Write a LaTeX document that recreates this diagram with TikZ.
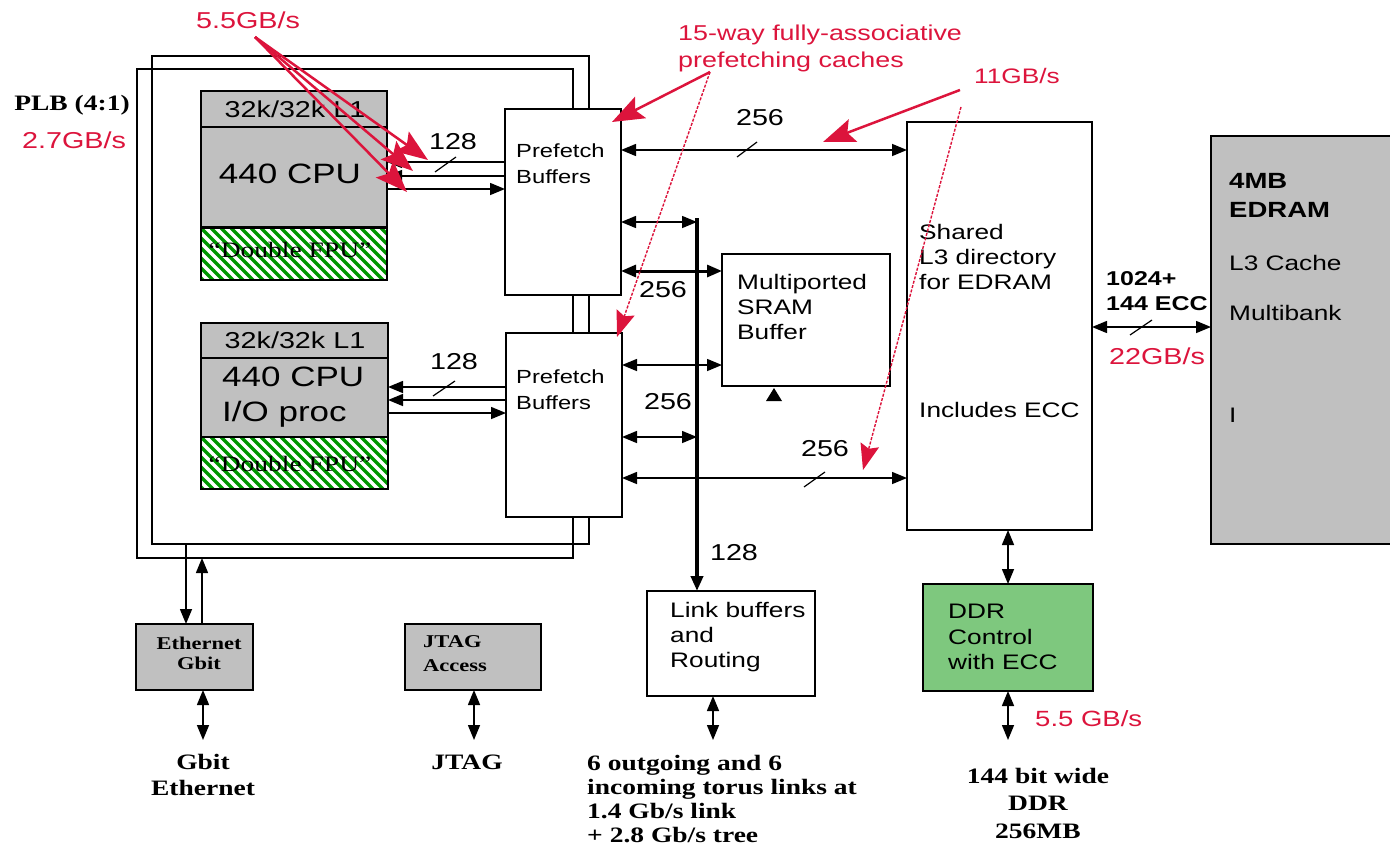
\documentclass[tikz,border=0pt]{standalone}
\usepackage{fontspec}
\setmainfont[FakeStretch=1.25]{Liberation Sans}
\newfontfamily\tms[FakeStretch=1.25]{Liberation Serif}
\usepackage{xcolor}
\usetikzlibrary{arrows.meta, positioning, calc}

\definecolor{annot}{RGB}{220,20,60}
\definecolor{blkgray}{RGB}{192,192,192}
\definecolor{ddrgreen}{RGB}{126,200,126}
\definecolor{hatchgreen}{RGB}{0,150,0}

\newcommand{\fs}[2]{\fontsize{#1}{#2}\selectfont}

\begin{document}
\begin{tikzpicture}[x=1pt, y=-1pt,
  >={Triangle[length=15pt,width=12pt]},
  box/.style={draw, line width=1.6pt, inner sep=0pt, outer sep=0pt, anchor=north west},
  wire/.style={line width=1.5pt},
  bus/.style={line width=4pt},
  slash/.style={line width=1.2pt},
  hatch/.style={draw=hatchgreen, line width=3.5pt},
  lbl/.style={inner sep=0pt, align=left},
  num/.style={inner sep=0pt, font=\fs{23}{26}},
  rlbl/.style={inner sep=0pt, align=left, text=annot, font=\fs{23}{27}},
  note/.style={draw=annot, line width=2.5pt, -{Stealth[length=32pt,width=24pt,inset=6pt]}, annot},
  notethin/.style={draw=annot, line width=1.4pt, dash pattern=on 3pt off 1.5pt, -{Stealth[length=26pt,width=19pt,inset=4pt]}, annot}]
\useasboundingbox (0,0) rectangle (1390,846);

% PLB frames
\node[box, minimum width=436pt, minimum height=489pt] (plbA) at (137,69) {};
\node[box, minimum width=437pt, minimum height=488pt] (plbB) at (152,56) {};
\node[lbl, font=\tms\bfseries\fs{22}{26}] (plb) at (72,105) {PLB (4:1)};

% upper CPU
\node[box, fill=blkgray, minimum width=186pt, minimum height=136pt] (cpuA) at (201,91) {};
\draw[line width=1.6pt] ([yshift=-36pt]cpuA.north west) -- ([yshift=-36pt]cpuA.north east);
\begin{scope}
  \clip (201,228) rectangle (387,280);
  \foreach \k in {-70,-60,...,190}
    \draw[hatch] (201+\k,228) -- ++(60,60);
\end{scope}
\node[box, minimum width=186pt, minimum height=52pt] (fpuA) at (201,228) {};
\node[lbl, font=\fs{23}{26}] (l1A) at (295,109) {32k/32k L1};
\node[lbl, font=\fs{28}{34}] (cpuAtxt) at (290,174) {440 CPU};
\node[lbl, font=\tms\fs{22}{26}] (fpuAtxt) at (290,250) {“Double FPU”};

% lower CPU
\node[box, fill=blkgray, minimum width=187pt, minimum height=114pt] (cpuB) at (201,323) {};
\draw[line width=1.6pt] ([yshift=-35pt]cpuB.north west) -- ([yshift=-35pt]cpuB.north east);
\begin{scope}
  \clip (201,437) rectangle (388,489);
  \foreach \k in {-70,-60,...,190}
    \draw[hatch] (201+\k,437) -- ++(60,60);
\end{scope}
\node[box, minimum width=187pt, minimum height=52pt] (fpuB) at (201,437) {};
\node[lbl, font=\fs{23}{26}] (l1B) at (295,340) {32k/32k L1};
\node[lbl, anchor=west, font=\fs{28}{35}] (cpuBtxt) at (222,397) {440 CPU\\I/O proc};
\node[lbl, font=\tms\fs{22}{26}] (fpuBtxt) at (290,464) {“Double FPU”};

% prefetch buffers
\node[box, fill=white, minimum width=116pt, minimum height=186pt] (pfA) at (505,109) {};
\node[lbl, anchor=west, font=\fs{19}{26}] (pfAtxt) at (516,164) {Prefetch\\Buffers};
\node[box, fill=white, minimum width=116pt, minimum height=184pt] (pfB) at (506,333) {};
\node[lbl, anchor=west, font=\fs{19}{26}] (pfBtxt) at (516,390) {Prefetch\\Buffers};

% other blocks
\node[box, minimum width=168pt, minimum height=132pt] (sram) at (722,254) {};
\node[lbl, anchor=west, font=\fs{21}{25}] (sramtxt) at (737,307) {Multiported\\SRAM\\Buffer};
\node[box, minimum width=185pt, minimum height=408pt] (l3) at (907,122) {};
\node[lbl, anchor=west, font=\fs{21}{25}] (l3txt) at (919,257) {Shared\\L3 directory\\for EDRAM};
\node[lbl, anchor=west, font=\fs{21}{25}] (l3ecc) at (919,410) {Includes ECC};
\node[box, fill=blkgray, minimum width=195pt, minimum height=408pt] (edram) at (1211,136) {};
\node[lbl, anchor=west, font=\bfseries\fs{22}{29}] (edtxt) at (1229,195) {4MB\\EDRAM};
\node[lbl, anchor=west, font=\fs{21}{25}] (edl3) at (1229,263) {L3 Cache};
\node[lbl, anchor=west, font=\fs{21}{25}] (edbank) at (1229,313) {Multibank};
\node[lbl, anchor=west, font=\fs{21}{25}] (edi) at (1229,415) {I};
\node[box, minimum width=168pt, minimum height=105pt] (link) at (647,591) {};
\node[lbl, anchor=west, font=\fs{21}{25}] (linktxt) at (670,637) {Link buffers\\and\\Routing};
\node[box, fill=ddrgreen, minimum width=170pt, minimum height=107pt] (ddr) at (923,584) {};
\node[lbl, anchor=west, font=\fs{21}{25.5}] (ddrtxt) at (948,637) {DDR\\Control\\with ECC};
\node[box, fill=blkgray, minimum width=117pt, minimum height=66pt] (eth) at (136,624) {};
\node[lbl, align=center, font=\tms\bfseries\fs{18}{20}] (ethtxt) at (199,653) {Ethernet\\Gbit};
\node[box, fill=blkgray, minimum width=136pt, minimum height=66pt] (jtag) at (405,624) {};
\node[lbl, anchor=west, font=\tms\bfseries\fs{18}{24}] (jtagtxt) at (423,654) {JTAG\\Access};

% CPU <-> prefetch
\foreach \yy in {162,176}
  \draw[wire,<-] (cpuA.east |- 0,\yy) -- (pfA.west |- 0,\yy);
\draw[wire,->] (cpuA.east |- 0,189) -- (pfA.west |- 0,189);
\foreach \yy in {387,400}
  \draw[wire,<-] (cpuB.east |- 0,\yy) -- (pfB.west |- 0,\yy);
\draw[wire,->] (cpuB.east |- 0,413) -- (pfB.west |- 0,413);
\draw[slash] (435,172) -- (456,157);
\draw[slash] (433,396) -- (455,381);
\node[num] (w1) at (453,142) {128};
\node[num] (w2) at (454,362) {128};

% bus and links
\coordinate (busTop) at (697,218);
\draw[bus,->] (busTop) -- (busTop |- link.north);
\draw[wire,<->] (pfA.east |- 0,150) -- (l3.west |- 0,150);
\draw[wire,<->] (pfA.east |- 0,222) -- (busTop |- 0,222);
\draw[<->,line width=3pt] (pfA.east |- 0,271) -- (sram.west |- 0,271);
\draw[wire,<->] (pfB.east |- 0,365) -- (sram.west |- 0,365);
\draw[wire,<->] (pfB.east |- 0,437) -- (busTop |- 0,437);
\draw[wire,<->] (pfB.east |- 0,478) -- (l3.west |- 0,478);
\draw[wire,<->] (l3.east |- 0,327) -- (edram.west |- 0,327);
\draw[slash] (737,157) -- (757,142);
\draw[slash] (804,487) -- (825,472);
\draw[slash] (1130,335) -- (1152,320);
\node[num] (w3) at (760,118) {256};
\node[num] (w4) at (663,290) {256};
\node[num] (w5) at (668,402) {256};
\node[num] (w6) at (825,449) {256};
\node[num] (w7) at (734,553) {128};
\node[lbl, anchor=west, font=\bfseries\fs{20}{25}] (w8) at (1106,291) {1024+\\144 ECC};
\fill (766,401) -- (782,401) -- (774,388) -- cycle;

% memory side
\draw[wire,<->] (ddr.north) -- (ddr.north |- l3.south);
\coordinate (ddrOut) at (1008,740);
\draw[wire,<->] (ddr.south) -- (ddrOut);
\node[lbl, align=center, font=\tms\bfseries\fs{22}{27.5}] (ddrmem) at (1038,803) {144 bit wide\\DDR\\256MB};

% torus links
\coordinate (linkOut) at (713,740);
\draw[wire,<->] (linkOut |- link.south) -- (linkOut);
\node[lbl, anchor=west, font=\tms\bfseries\fs{22}{24.3}] (torus) at (587,799) {6 outgoing and 6\\incoming torus links at\\1.4 Gb/s link\\+ 2.8 Gb/s tree};

% ethernet and jtag
\coordinate (ethIn) at (186,600);
\coordinate (ethUp) at (202,600);
\draw[wire,->] (ethIn |- plbB.south) -- (ethIn |- eth.north);
\draw[wire,->] (ethUp |- eth.north) -- (ethUp |- plbA.south);
\coordinate (ethOut) at (203,740);
\draw[wire,<->] (ethOut |- eth.south) -- (ethOut);
\node[lbl, align=center, font=\tms\bfseries\fs{22}{26}] (gbit) at (203,775) {Gbit\\Ethernet};
\coordinate (jtagOut) at (474,740);
\draw[wire,<->] (jtagOut |- jtag.south) -- (jtagOut);
\node[lbl, font=\tms\bfseries\fs{22}{26}] (jtagpin) at (467,762) {JTAG};

% red notes
\node[rlbl] (r1) at (248,20) {5.5GB/s};
\node[rlbl] (r2) at (74,140) {2.7GB/s};
\node[rlbl, anchor=west, font=\fs{21.5}{27}] (r3) at (678,48) {15-way fully-associative\\prefetching caches};
\node[rlbl, font=\fs{21}{25}] (r4) at (1017,76) {11GB/s};
\node[rlbl] (r5) at (1157,356) {22GB/s};
\node[rlbl, anchor=west, font=\fs{22}{25}] (r6) at (1035,719) {5.5 GB/s};

\coordinate (s1) at (255,37);
\coordinate (t1) at (428,160);
\coordinate (t2) at (413,171);
\coordinate (t3) at (407,192);
\foreach \t in {t1,t2,t3}
  \draw[note] (s1) -- (\t);
\coordinate (s2) at (710,72);
\coordinate (t4) at (612,122);
\coordinate (t5) at (617,337);
\draw[note] (s2) -- (t4);
\draw[notethin] (s2) -- (t5);
\coordinate (s3) at (960,90);
\coordinate (t6) at (823,142);
\coordinate (s4) at (961,107);
\coordinate (t7) at (863,470);
\draw[note] (s3) -- (t6);
\draw[notethin] (s4) -- (t7);
\end{tikzpicture}
\end{document}
